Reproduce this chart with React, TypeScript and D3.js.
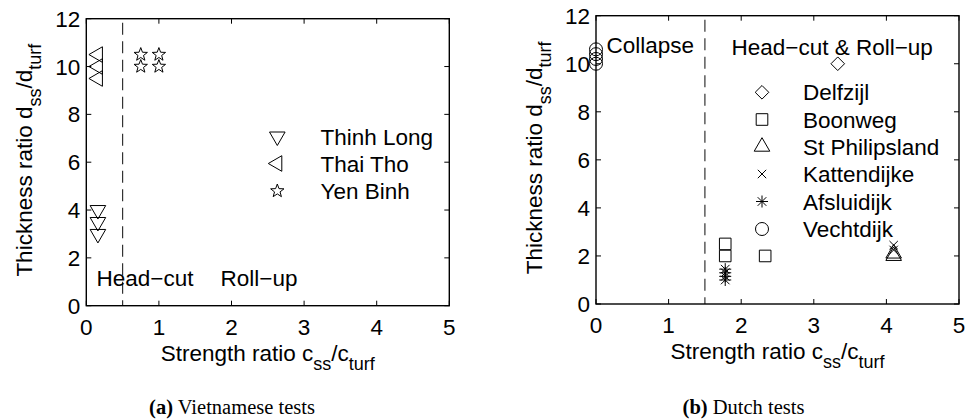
import * as d3 from "d3";

// shared ticks
const xTicks = [0, 1, 2, 3, 4, 5];
const yTicks = [0, 2, 4, 6, 8, 10, 12];

// (a) Vietnamese tests
const thinhLongX = [0.16, 0.16, 0.16];
const thinhLongY = [4, 3.5, 3];
const thaiThoX = [0.16, 0.16, 0.16];
const thaiThoY = [10.5, 10, 9.5];
const yenBinhX = [0.75, 1, 0.75, 1];
const yenBinhY = [10.5, 10.5, 10, 10];

// (b) Dutch tests
const delfzijlX = [3.33];
const delfzijlY = [10];
const boonwegX = [1.78, 1.78, 2.33];
const boonwegY = [2.5, 2.0, 2.0];
const stPhilipslandX = [4.1, 4.1];
const stPhilipslandY = [2.1, 2.0];
const kattendijkeX = [4.1, 4.1];
const kattendijkeY = [2.45, 2.25];
const afsluidijkX = [1.78, 1.78, 1.78, 1.78];
const afsluidijkY = [1.0, 1.15, 1.3, 1.45];
const vechtdijkX = [0, 0, 0, 0];
const vechtdijkY = [10, 10.2, 10.4, 10.6];

type Marker = "v" | "<" | "^" | "p" | "d" | "s" | "x" | "*" | "o";

interface Series {
  name: string;
  marker: Marker;
  xs: number[];
  ys: number[];
}

const SANS = "'Liberation Sans', Arial, Helvetica, sans-serif";
const SERIF = "'Liberation Serif', 'Times New Roman', serif";
const FONT = 22.5;
const SUB = 18;

function markerPath(m: Marker, cx: number, cy: number): string {
  const r = 9;
  const h = r * 0.866;
  switch (m) {
    case "v":
      return `M${cx - h},${cy - r / 2}L${cx + h},${cy - r / 2}L${cx},${cy + r}Z`;
    case "^":
      return `M${cx - h},${cy + r / 2}L${cx + h},${cy + r / 2}L${cx},${cy - r}Z`;
    case "<":
      return `M${cx - r},${cy}L${cx + r / 2},${cy - h}L${cx + r / 2},${cy + h}Z`;
    case "p": {
      const pts: string[] = [];
      for (let i = 0; i < 10; i++) {
        const rad = i % 2 === 0 ? 7 : 2.9;
        const a = -Math.PI / 2 + (i * Math.PI) / 5;
        pts.push(`${cx + rad * Math.cos(a)},${cy + rad * Math.sin(a)}`);
      }
      return `M${pts.join("L")}Z`;
    }
    case "d":
      return `M${cx},${cy - 6.8}L${cx + 6.8},${cy}L${cx},${cy + 6.8}L${cx - 6.8},${cy}Z`;
    case "s":
      return `M${cx - 5.8},${cy - 5.8}H${cx + 5.8}V${cy + 5.8}H${cx - 5.8}Z`;
    case "x":
      return `M${cx - 4.2},${cy - 4.2}L${cx + 4.2},${cy + 4.2}M${cx - 4.2},${cy + 4.2}L${cx + 4.2},${cy - 4.2}`;
    case "*":
      return (
        `M${cx - 6},${cy}H${cx + 6}M${cx},${cy - 6}V${cy + 6}` +
        `M${cx - 4.3},${cy - 4.3}L${cx + 4.3},${cy + 4.3}M${cx - 4.3},${cy + 4.3}L${cx + 4.3},${cy - 4.3}`
      );
    case "o":
      return `M${cx + 6.5},${cy}A6.5,6.5 0 1,1 ${cx - 6.5},${cy}A6.5,6.5 0 1,1 ${cx + 6.5},${cy}Z`;
  }
}

interface PanelProps {
  left: number;
  right: number;
  top: number;
  bottom: number;
  divider: number;
  series: Series[];
  legendX: number;
  legendTextX: number;
  legendY: number[];
  notes: { text: string; x: number; y: number }[];
  yLabelX: number;
  captionX: number;
  captionTag: string;
  caption: string;
}

function Panel(p: PanelProps) {
  const x = d3.scaleLinear().domain([0, 5]).range([p.left, p.right]);
  const y = d3.scaleLinear().domain([0, 12]).range([p.bottom, p.top]);
  const tick = 5;
  const midY = (p.top + p.bottom) / 2 - 2;
  const midX = (p.left + p.right) / 2;

  return (
    <g>
      {/* divider between regimes */}
      <line
        x1={x(p.divider)}
        x2={x(p.divider)}
        y1={y(12)}
        y2={y(0)}
        stroke="#333"
        strokeWidth={1.2}
        strokeDasharray="12 6.5"
        strokeDashoffset={-4}
      />

      {/* ticks on all four sides, pointing in */}
      {xTicks.map((t) => (
        <g key={"xt" + t}>
          <line x1={x(t)} x2={x(t)} y1={p.bottom} y2={p.bottom - tick} stroke="#000" strokeWidth={1} />
          <line x1={x(t)} x2={x(t)} y1={p.top} y2={p.top + tick} stroke="#000" strokeWidth={1} />
          <text
            x={x(t)}
            y={p.bottom + 29}
            textAnchor="middle"
            fontFamily={SANS}
            fontSize={FONT}
          >
            {t}
          </text>
        </g>
      ))}
      {yTicks.map((t) => (
        <g key={"yt" + t}>
          <line x1={p.left} x2={p.left + tick} y1={y(t)} y2={y(t)} stroke="#000" strokeWidth={1} />
          <line x1={p.right} x2={p.right - tick} y1={y(t)} y2={y(t)} stroke="#000" strokeWidth={1} />
          <text
            x={p.left - 6}
            y={y(t) + 8}
            textAnchor="end"
            fontFamily={SANS}
            fontSize={FONT}
          >
            {t}
          </text>
        </g>
      ))}

      <rect
        x={p.left}
        y={p.top}
        width={p.right - p.left}
        height={p.bottom - p.top}
        fill="none"
        stroke="#000"
        strokeWidth={1.4}
      />

      {/* data */}
      {p.series.map((s) =>
        s.xs.map((xv, i) => (
          <path
            key={s.name + i}
            d={markerPath(s.marker, x(xv), y(s.ys[i]))}
            fill="none"
            stroke="#000"
            strokeWidth={1}
          />
        ))
      )}

      {/* legend */}
      {p.series.map((s, i) => (
        <g key={"lg" + s.name}>
          <path
            d={markerPath(s.marker, p.legendX, p.legendY[i])}
            fill="none"
            stroke="#000"
            strokeWidth={1}
          />
          <text x={p.legendTextX} y={p.legendY[i] + 8} fontFamily={SANS} fontSize={FONT}>
            {s.name}
          </text>
        </g>
      ))}

      {p.notes.map((n) => (
        <text key={n.text} x={n.x} y={n.y} fontFamily={SANS} fontSize={FONT}>
          {n.text}
        </text>
      ))}

      {/* axis titles */}
      <text x={midX} y={p.bottom + 55} textAnchor="middle" fontFamily={SANS} fontSize={FONT}>
        Strength ratio c
        <tspan fontSize={SUB} dy={9}>ss</tspan>
        <tspan dy={-9}>/c</tspan>
        <tspan fontSize={SUB} dy={9}>turf</tspan>
      </text>
      <text
        transform={`translate(${p.yLabelX},${midY}) rotate(-90)`}
        textAnchor="middle"
        fontFamily={SANS}
        fontSize={FONT}
      >
        Thickness ratio d
        <tspan fontSize={SUB} dy={9}>ss</tspan>
        <tspan dy={-9}>/d</tspan>
        <tspan fontSize={SUB} dy={9}>turf</tspan>
      </text>

      <text x={p.captionX} y={414} textAnchor="middle" fontFamily={SERIF} fontSize={20.5}>
        <tspan fontWeight="bold">{p.captionTag}</tspan> {p.caption}
      </text>
    </g>
  );
}

export default function App() {
  const vietnam: Series[] = [
    { name: "Thinh Long", marker: "v", xs: thinhLongX, ys: thinhLongY },
    { name: "Thai Tho", marker: "<", xs: thaiThoX, ys: thaiThoY },
    { name: "Yen Binh", marker: "p", xs: yenBinhX, ys: yenBinhY },
  ];
  const dutch: Series[] = [
    { name: "Delfzijl", marker: "d", xs: delfzijlX, ys: delfzijlY },
    { name: "Boonweg", marker: "s", xs: boonwegX, ys: boonwegY },
    { name: "St Philipsland", marker: "^", xs: stPhilipslandX, ys: stPhilipslandY },
    { name: "Kattendijke", marker: "x", xs: kattendijkeX, ys: kattendijkeY },
    { name: "Afsluidijk", marker: "*", xs: afsluidijkX, ys: afsluidijkY },
    { name: "Vechtdijk", marker: "o", xs: vechtdijkX, ys: vechtdijkY },
  ];

  return (
    <div style={{ position: "absolute", left: 0, top: 0 }}>
      <svg width={966} height={420} style={{ display: "block", background: "#fff" }}>
        <Panel
          left={86.3}
          right={449.3}
          top={18.7}
          bottom={305.7}
          divider={0.5}
          series={vietnam}
          legendX={277.3}
          legendTextX={320.5}
          legendY={[136.5, 163.5, 191]}
          notes={[
            { text: "Head\u2212cut", x: 96.5, y: 286 },
            { text: "Roll\u2212up", x: 220.5, y: 286 },
          ]}
          yLabelX={32}
          captionX={232}
          captionTag="(a)"
          caption="Vietnamese tests"
        />
        <Panel
          left={596}
          right={959}
          top={15.7}
          bottom={304}
          divider={1.5}
          series={dutch}
          legendX={762}
          legendTextX={803}
          legendY={[92.3, 119.5, 146.7, 174, 201.5, 229]}
          notes={[
            { text: "Collapse", x: 606.5, y: 53 },
            { text: "Head\u2212cut & Roll\u2212up", x: 731.5, y: 55 },
          ]}
          yLabelX={541.5}
          captionX={743.5}
          captionTag="(b)"
          caption="Dutch tests"
        />
      </svg>
    </div>
  );
}
